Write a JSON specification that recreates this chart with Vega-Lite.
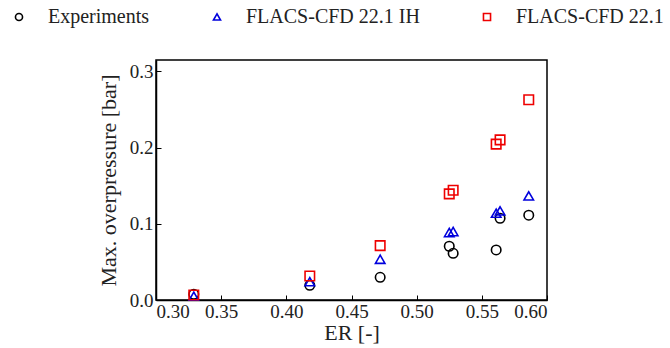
{
  "$schema": "https://vega.github.io/schema/vega-lite/v6.json",
  "autosize": "none",
  "width": 391,
  "height": 240,
  "padding": {"left": 156, "top": 60, "right": 123, "bottom": 48},
  "background": "white",
  "config": {
    "font": "Liberation Serif",
    "view": {"stroke": "black", "strokeWidth": 1.5},
    "axis": {
      "domainColor": "black",
      "domainWidth": 1.5,
      "tickColor": "black",
      "tickWidth": 1,
      "tickSize": -5,
      "grid": false,
      "labelFont": "Liberation Serif",
      "labelFontSize": 19,
      "labelColor": "#222",
      "titleFont": "Liberation Serif",
      "titleFontSize": 22,
      "titleFontWeight": "normal",
      "titleColor": "#222"
    },
    "legend": {
      "title": null,
      "orient": "none",
      "direction": "horizontal",
      "legendX": -147,
      "legendY": -53,
      "padding": 0,
      "symbolSize": 50,
      "symbolStrokeWidth": 1.6,
      "labelFont": "Liberation Serif",
      "labelFontSize": 20,
      "labelColor": "#222",
      "labelOffset": 19,
      "labelLimit": 400,
      "columnPadding": 57
    }
  },
  "data": {
    "values": [
      {"series": "Experiments", "ER": 0.329, "P": 0.0075},
      {"series": "Experiments", "ER": 0.418, "P": 0.0193},
      {"series": "Experiments", "ER": 0.472, "P": 0.0298},
      {"series": "Experiments", "ER": 0.525, "P": 0.0705},
      {"series": "Experiments", "ER": 0.528, "P": 0.0613},
      {"series": "Experiments", "ER": 0.561, "P": 0.0657},
      {"series": "Experiments", "ER": 0.564, "P": 0.1073},
      {"series": "Experiments", "ER": 0.586, "P": 0.1113},
      {"series": "FLACS-CFD 22.1 IH", "ER": 0.329, "P": 0.005},
      {"series": "FLACS-CFD 22.1 IH", "ER": 0.418, "P": 0.024},
      {"series": "FLACS-CFD 22.1 IH", "ER": 0.472, "P": 0.0535},
      {"series": "FLACS-CFD 22.1 IH", "ER": 0.525, "P": 0.0885},
      {"series": "FLACS-CFD 22.1 IH", "ER": 0.528, "P": 0.0898},
      {"series": "FLACS-CFD 22.1 IH", "ER": 0.561, "P": 0.114},
      {"series": "FLACS-CFD 22.1 IH", "ER": 0.564, "P": 0.117},
      {"series": "FLACS-CFD 22.1 IH", "ER": 0.586, "P": 0.1367},
      {"series": "FLACS-CFD 22.1", "ER": 0.329, "P": 0.0066},
      {"series": "FLACS-CFD 22.1", "ER": 0.418, "P": 0.0315},
      {"series": "FLACS-CFD 22.1", "ER": 0.472, "P": 0.0714},
      {"series": "FLACS-CFD 22.1", "ER": 0.525, "P": 0.1393},
      {"series": "FLACS-CFD 22.1", "ER": 0.528, "P": 0.144},
      {"series": "FLACS-CFD 22.1", "ER": 0.561, "P": 0.2046},
      {"series": "FLACS-CFD 22.1", "ER": 0.564, "P": 0.2102},
      {"series": "FLACS-CFD 22.1", "ER": 0.586, "P": 0.2628}
    ]
  },
  "mark": {"type": "point", "filled": false, "strokeWidth": 1.6, "size": 90, "opacity": 1},
  "encoding": {
    "x": {
      "field": "ER", "type": "quantitative",
      "scale": {"domain": [0.3, 0.6], "nice": false, "zero": false},
      "axis": {"title": "ER [-]", "values": [0.3, 0.35, 0.4, 0.45, 0.5, 0.55, 0.6], "format": ".2f", "labelPadding": 7, "titlePadding": 1}
    },
    "y": {
      "field": "P", "type": "quantitative",
      "scale": {"domain": [0, 0.315], "nice": false},
      "axis": {"title": "Max. overpressure [bar]", "values": [0, 0.1, 0.2, 0.3], "format": ".1f", "labelPadding": 8, "titlePadding": 9}
    },
    "color": {
      "field": "series", "type": "nominal",
      "scale": {"domain": ["Experiments", "FLACS-CFD 22.1 IH", "FLACS-CFD 22.1"], "range": ["#000000", "#0000dd", "#ee0000"]}
    },
    "shape": {
      "field": "series", "type": "nominal",
      "scale": {"domain": ["Experiments", "FLACS-CFD 22.1 IH", "FLACS-CFD 22.1"], "range": ["circle", "triangle-up", "square"]}
    }
  }
}
